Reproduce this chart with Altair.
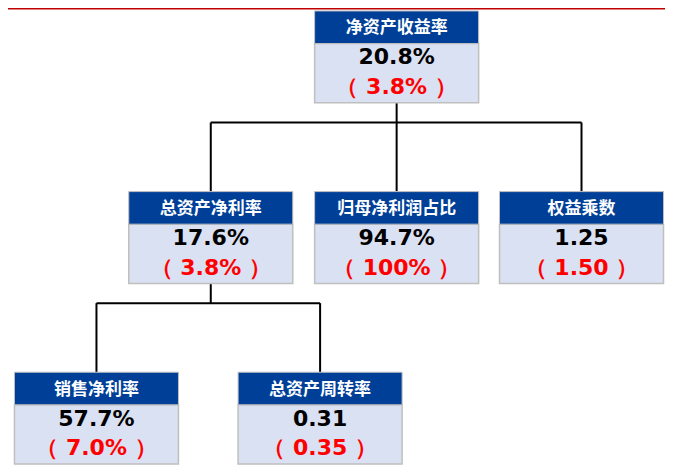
import altair as alt
import pandas as pd

# ---- data ----
names = ["净资产收益率", "总资产净利率", "归母净利润占比", "权益乘数", "销售净利率", "总资产周转率"]
current = ["20.8%", "17.6%", "94.7%", "1.25", "57.7%", "0.31"]
compare = ["3.8%", "3.8%", "100%", "1.50", "7.0%", "0.35"]
parents = [None, 0, 0, 0, 1, 1]

# ---- layout (pixel-space units used by the scales) ----
col_center = [397, 210, 397, 583, 95, 320]
row_top = [5, 188, 188, 188, 371, 371]
BOX_W = 165
HEAD_H = 33
BODY_H = 60
GAP = 20

nodes = pd.DataFrame({
    "name": names,
    "cur": current,
    "cmp": ["（ " + c + " ）" for c in compare],
    "cx": col_center,
    "top": row_top,
})
nodes["x0"] = nodes["cx"] - BOX_W / 2
nodes["x1"] = nodes["cx"] + BOX_W / 2
nodes["hb"] = nodes["top"] + HEAD_H
nodes["bb"] = nodes["top"] + HEAD_H + BODY_H
nodes["ty"] = nodes["top"] + HEAD_H / 2 + 1
nodes["vy"] = nodes["top"] + 47
nodes["ry"] = nodes["top"] + 77

# connectors
segs = []
for p in sorted(set(x for x in parents if x is not None)):
    kids = [i for i, q in enumerate(parents) if q == p]
    pb = row_top[p] + HEAD_H + BODY_H
    ky = row_top[kids[0]]
    mid = pb + GAP
    segs.append(dict(x=col_center[p], x2=col_center[p], y=pb, y2=mid))
    segs.append(dict(x=min(col_center[k] for k in kids), x2=max(col_center[k] for k in kids), y=mid, y2=mid))
    for k in kids:
        segs.append(dict(x=col_center[k], x2=col_center[k], y=mid, y2=ky))
edges = pd.DataFrame(segs)

xs = alt.Scale(domain=[6, 667], nice=False, zero=False)
ys = alt.Scale(domain=[2, 466], nice=False, zero=False, reverse=True)
X = lambda f: alt.X(f, type="quantitative", scale=xs, axis=None)
Y = lambda f: alt.Y(f, type="quantitative", scale=ys, axis=None)

lines = alt.Chart(edges).mark_rule(color="#000000", strokeWidth=2).encode(
    x=X("x"), x2="x2", y=Y("y"), y2="y2")

body = alt.Chart(nodes).mark_rect(fill="#DAE1F2", stroke="#BFBFBF", strokeWidth=1.5).encode(
    x=X("x0"), x2="x1", y=Y("hb"), y2="bb")
head = alt.Chart(nodes).mark_rect(fill="#003F98", stroke="#BFBFBF", strokeWidth=1).encode(
    x=X("x0"), x2="x1", y=Y("top"), y2="hb")

title_t = alt.Chart(nodes).mark_text(color="white", fontSize=17, fontWeight="bold",
                                     font="Noto Sans CJK SC", baseline="middle").encode(
    x=X("cx"), y=Y("ty"), text="name")
val_t = alt.Chart(nodes).mark_text(color="#000000", fontSize=22, fontWeight="bold",
                                   font="DejaVu Sans", baseline="middle").encode(
    x=X("cx"), y=Y("vy"), text="cur")
cmp_t = alt.Chart(nodes).mark_text(color="#FF0000", fontSize=22, fontWeight="bold",
                                   font="DejaVu Sans", baseline="middle").encode(
    x=X("cx"), y=Y("ry"), text="cmp")

topline = alt.Chart(pd.DataFrame({"x": [6], "x2": [667], "y": [2]})).mark_rule(
    color="#C00000", strokeWidth=3).encode(x=X("x"), x2="x2", y=Y("y"))

chart = alt.layer(topline, lines, body, head, title_t, val_t, cmp_t).properties(
    width=657, height=458, padding=0,
    autosize=alt.AutoSizeParams(type="none"),
).configure_view(stroke=None)

chart.save("out.html", embed_options={"renderer": "svg", "actions": False})
